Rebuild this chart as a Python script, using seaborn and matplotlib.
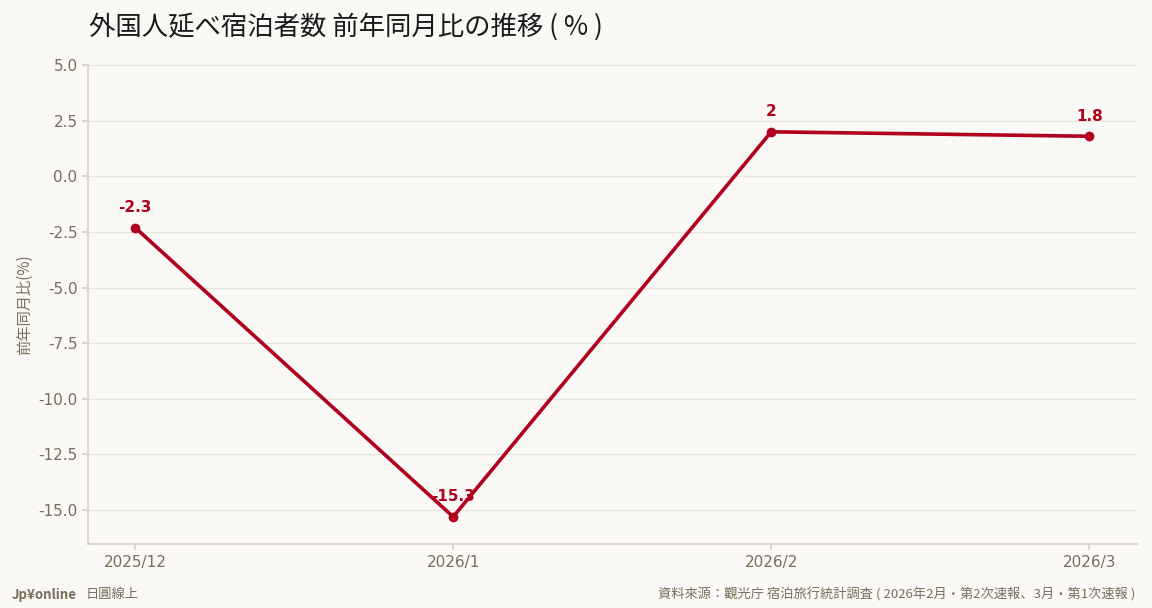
import matplotlib
matplotlib.use("Agg")
import matplotlib.pyplot as plt
import seaborn as sns
import pandas as pd

months = ["2025/12", "2026/1", "2026/2", "2026/3"]
values = [-2.3, -15.3, 2, 1.8]
labels = ["-2.3", "-15.3", "2", "1.8"]
yticks = [5.0, 2.5, 0.0, -2.5, -5.0, -7.5, -10.0, -12.5, -15.0]

sns.set_theme(style="white")
plt.rcParams['font.family'] = ['Noto Sans CJK JP', 'DejaVu Sans']
bg = "#faf9f6"
red = "#b0001e"
tc = "#7a6e5a"

fig = plt.figure(figsize=(11.52, 6.08), dpi=100, facecolor=bg)
ax = fig.add_axes([0.0764, 0.105, 0.9106, 0.788], facecolor=bg)
df = pd.DataFrame({"x": range(len(months)), "y": values})
sns.lineplot(data=df, x="x", y="y", ax=ax, color=red, linewidth=2.6, marker="o", markersize=7, markeredgewidth=0)
for i, (v, l) in enumerate(zip(values, labels)):
    ax.annotate(l, (i, v), xytext=(0, 9), textcoords="offset points", ha="center", va="bottom",
                color=red, fontsize=11, fontweight="bold", family="DejaVu Sans")
ax.set_xlim(-0.148, 3.15)
ax.set_ylim(-16.53, 5.0)
ax.set_xticks(range(len(months)))
ax.set_xticklabels(months)
ax.set_yticks(yticks)
ax.set_yticklabels([f"{t:.1f}" for t in yticks])
ax.grid(axis="y", color="#e8e4da", linewidth=0.8)
ax.set_axisbelow(True)
for s in ["top", "right"]:
    ax.spines[s].set_visible(False)
for s in ["left", "bottom"]:
    ax.spines[s].set_color("#d8d2c2")
ax.tick_params(axis="both", colors=tc, labelsize=11, length=4, left=True, bottom=True, color="#d8d2c2")
for t in ax.get_xticklabels() + ax.get_yticklabels():
    t.set_family("DejaVu Sans")
ax.set_xlabel("")
ax.set_ylabel("前年同月比(%)", color=tc, fontsize=11)
fig.text(0.077, 0.955, "外国人延べ宿泊者数 前年同月比の推移 ( % )", fontsize=19, color="#1a1a1a", va="center")
fig.text(0.01, 0.022, "Jp¥online", fontsize=9.5, color=tc, fontweight="bold", va="center")
fig.text(0.074, 0.022, "日圓線上", fontsize=9.5, color=tc, va="center")
fig.text(0.986, 0.022, "資料來源：觀光庁 宿泊旅行統計調査 ( 2026年2月・第2次速報、3月・第1次速報 )",
         fontsize=9.5, color=tc, va="center", ha="right")
fig.savefig("out.png", dpi=100, facecolor=bg)
